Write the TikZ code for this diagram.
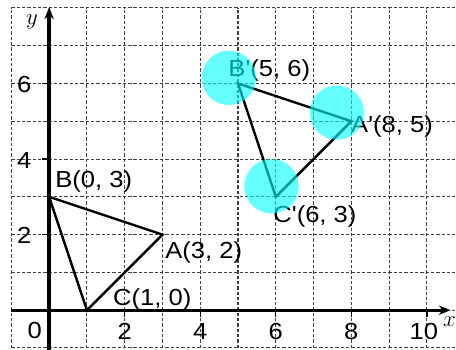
\documentclass[tikz,border=0pt]{standalone}
\usepackage{fontspec}
\usepackage{tikz}
\usetikzlibrary{arrows.meta}
\newfontfamily\lblfont{Liberation Sans}[FakeStretch=1.1]
\definecolor{hlcyan}{RGB}{0,255,255}

\begin{document}
\begin{tikzpicture}[
  every node/.style={font=\lblfont\fontsize{17.5}{20}\selectfont},
  gridline/.style={draw=black!75, line width=0.8pt,
                   dash pattern=on 2.5pt off 1.5pt},
  axis/.style={line width=2.5pt, -{Stealth[length=9pt, width=7pt]}},
  tri/.style={line width=1.8pt, line join=miter},
  tick/.style={line width=1pt},
  lbl/.style={anchor=base west, inner sep=0pt},
  num/.style={inner sep=0pt},
  hilite/.style={circle, fill=hlcyan, fill opacity=0.6, draw=none,
                 minimum size=1.44cm, inner sep=0pt},
]
\clip (-1.3,-1.03) rectangle (10.77,8.21);

% Grid
\draw[gridline] (-1,-1) grid (11,8);

% ── Axes ──
\coordinate (xs) at (-1,0);
\coordinate (xe) at (10.63,0);
\coordinate (ys) at (0,-1.1);
\coordinate (ye) at (0,8.02);
\draw[axis] (xs) -- (xe);
\draw[axis] (ys) -- (ye);
\node[num] (xlab) at (10.6,-0.3) {$x$};
\node (ylab) at (-0.45,7.64) {$y$};

% Ticks and numbers
\foreach \i in {2,4,6,8} {
  \draw[tick] (\i,0) -- (\i,-0.18);
  \node[num] (xn\i) at (\i,-0.57) {\i};
}
\draw[tick] (10,0) -- (10,-0.18);
\node[num] (xn10) at (9.92,-0.57) {10};
\foreach \j in {2,4,6} {
  \draw[tick] (0,\j) -- (-0.2,\j);
  \node[num] (yn\j) at (-0.66,\j-0.03) {\j};
}
\node[num] (o) at (-0.38,-0.53) {0};

% ── Triangle ABC ──
\coordinate (A) at (3,2);
\coordinate (B) at (0,3);
\coordinate (C) at (1,0);
\draw[tri] (A) -- (B) -- (C) -- cycle;

% ── Triangle A'B'C' ──
\coordinate (Ap) at (8,5);
\coordinate (Bp) at (5,6);
\coordinate (Cp) at (6,3);
\draw[tri] (Ap) -- (Bp) -- (Cp) -- cycle;

% Labels
\node[lbl] (lA)  at (3.07,1.38) {A(3, 2)};
\node[lbl] (lB)  at (0.16,3.24) {B(0, 3)};
\node[lbl] (lC)  at (1.69,0.13) {C(1, 0)};
\node[lbl] (lAp) at (7.99,4.69) {A'(8, 5)};
\node[lbl] (lBp) at (4.74,6.18) {B'(5, 6)};
\node[lbl] (lCp) at (5.93,2.33) {C'(6, 3)};

% Highlights
\node[hilite] (hBp) at (4.76,6.15) {};
\node[hilite] (hAp) at (7.62,5.23) {};
\node[hilite] (hCp) at (5.89,3.28) {};

\end{tikzpicture}
\end{document}
